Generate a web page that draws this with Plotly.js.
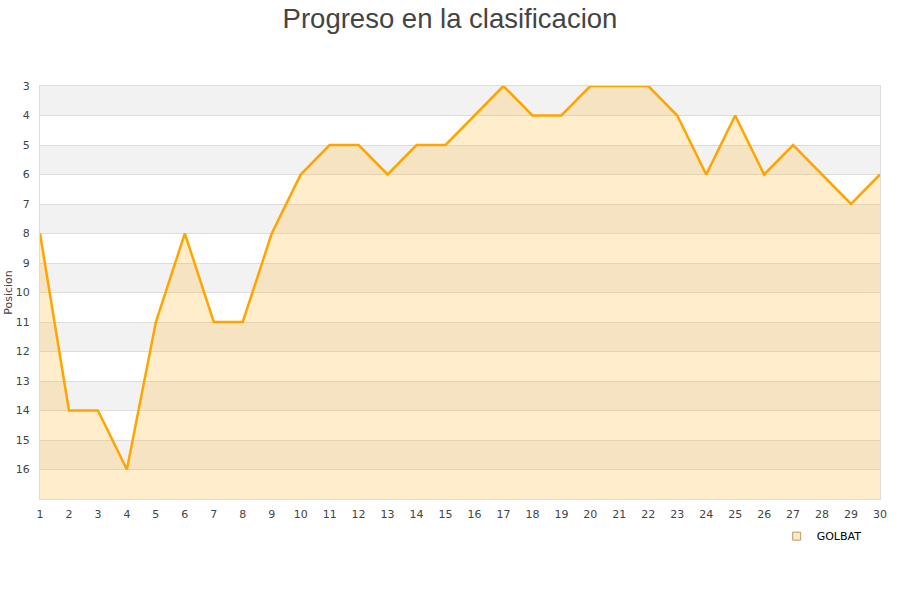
<!DOCTYPE html>
<html>
<head>
<meta charset="utf-8">
<script src="https://cdn.plot.ly/plotly-3.0.1.min.js"></script>
<style>html,body{margin:0;padding:0;background:#fff;}#chart{width:900px;height:600px;}</style>
</head>
<body>
<div id="chart"></div>
<script>
const jornadas = [1,2,3,4,5,6,7,8,9,10,11,12,13,14,15,16,17,18,19,20,21,22,23,24,25,26,27,28,29,30];
const posiciones = [8,14,14,16,11,8,11,11,8,6,5,5,6,5,5,4,3,4,4,3,3,3,4,6,4,6,5,6,7,6];
const equipo = "GOLBAT";
const yTicks = [3,4,5,6,7,8,9,10,11,12,13,14,15,16];
const yMin = 3, yMax = 17;

const shapes = [];
for (let v = yMin; v < yMax; v += 2) {
  shapes.push({type:'rect', xref:'paper', yref:'y', x0:0, x1:1, y0:v, y1:v+1,
    fillcolor:'#f2f2f2', line:{width:0}, layer:'below'});
}

const baseline = jornadas.map(() => yMax);

const traces = [
  {x: jornadas, y: baseline, mode:'lines', line:{width:0}, hoverinfo:'skip', showlegend:false},
  {x: jornadas, y: posiciones, mode:'lines', name: equipo, fill:'tonexty',
   fillcolor:'rgba(255,177,34,0.23)', line:{color:'#FFA500', width:2.5}, showlegend:false},
  {x:[null], y:[null], mode:'markers', name: equipo,
   marker:{symbol:'square', size:8, color:'#ffe9c4', line:{color:'#b89a6a', width:1}}}
];

const layout = {
  width:900, height:600,
  paper_bgcolor:'#fff', plot_bgcolor:'#fff',
  margin:{l:40, r:20, t:86, b:101},
  title:{text:'Progreso en la clasificacion', x:0.5, xanchor:'center', y:0.986, yanchor:'top',
    font:{family:'Liberation Sans, Arial, sans-serif', size:27.5, color:'#444'}},
  shapes: shapes,
  xaxis:{range:[1,30], tickmode:'array', tickvals: jornadas, ticks:'outside', ticklen:5, tickcolor:'rgba(0,0,0,0)',
    showgrid:false, zeroline:false, showline:true, linecolor:'#ddd', linewidth:1, mirror:true,
    tickfont:{family:'DejaVu Sans, sans-serif', size:11, color:'#444'}},
  yaxis:{range:[yMax, yMin], tickmode:'array', tickvals: yTicks, ticks:'outside', ticklen:7, tickcolor:'rgba(0,0,0,0)',
    showgrid:true, gridcolor:'#ddd', gridwidth:1, zeroline:false,
    showline:true, linecolor:'#ddd', linewidth:1, mirror:true,
    tickfont:{family:'DejaVu Sans, sans-serif', size:11, color:'#444'},
    title:{text:'Posicion', standoff:0, font:{family:'DejaVu Sans, sans-serif', size:11, color:'#444'}}},
  legend:{x:0.877, y:-0.09, xanchor:'left', yanchor:'middle', orientation:'h', itemwidth:30,
    font:{family:'DejaVu Sans, sans-serif', size:11, color:'#000'}, bgcolor:'rgba(0,0,0,0)'},
  showlegend:true
};

Plotly.newPlot('chart', traces, layout, {displayModeBar:false, staticPlot:true});
</script>
</body>
</html>
